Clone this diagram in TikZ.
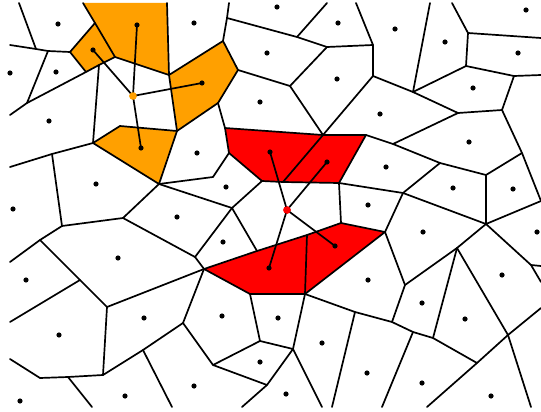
\documentclass[tikz,border=0pt]{standalone}
\definecolor{vorange}{RGB}{255,160,0}
\definecolor{vred}{RGB}{255,0,0}
\begin{document}
\begin{tikzpicture}[x=1pt,y=-1pt,
  edge/.style={line width=1.7pt, line join=round, line cap=round},
  site/.style={circle, fill=black, inner sep=0pt, minimum size=5.2pt},
  qorange/.style={circle, fill=vorange, inner sep=0pt, minimum size=7.5pt},
  qred/.style={circle, fill=vred, inner sep=0pt, minimum size=7.5pt},
  conn/.style={line width=1.7pt}]
\useasboundingbox (0,0) rectangle (541,412);
\fill[white] (0,0) rectangle (541,412);
% boundary points
\coordinate (b1) at (19,3);  \coordinate (b2) at (83,3);  \coordinate (b3) at (167,3);
\coordinate (b4) at (229,3); \coordinate (b5) at (327,3); \coordinate (b6) at (356,3);
\coordinate (b7) at (430,3); \coordinate (b8) at (452,3);
\coordinate (l1) at (10,45);  \coordinate (l2) at (10,115); \coordinate (l3) at (10,167);
\coordinate (l4) at (10,262); \coordinate (l5) at (10,322); \coordinate (l6) at (10,359);
\coordinate (r1) at (541,38);  \coordinate (r2) at (541,75);  \coordinate (r3) at (541,201);
\coordinate (r4) at (541,266); \coordinate (r5) at (541,282); \coordinate (r6) at (541,308);
\coordinate (d1) at (92,407);  \coordinate (d2) at (172,407); \coordinate (d3) at (242,407);
\coordinate (d4) at (322,407); \coordinate (d5) at (332,407); \coordinate (d6) at (382,407);
\coordinate (d7) at (427,407); \coordinate (d8) at (531,407);
% interior vertices
\coordinate (A) at (36,49);   \coordinate (B) at (48,51);   \coordinate (C) at (70,52);
\coordinate (D) at (95,23);   \coordinate (E) at (115,57);  \coordinate (F) at (99,65);
\coordinate (G) at (86,72);   \coordinate (H) at (27,103);  \coordinate (I) at (93,143);
\coordinate (J) at (52,154);  \coordinate (K) at (120,126); \coordinate (L) at (177,131);
\coordinate (M) at (169,75);  \coordinate (N) at (159,184); \coordinate (O) at (223,41);
\coordinate (P) at (238,70);  \coordinate (Q) at (218,103); \coordinate (R) at (227,18);
\coordinate (S) at (297,37);  \coordinate (T) at (327,47);  \coordinate (U) at (290,86);
\coordinate (V) at (373,45);  \coordinate (W) at (373,76);  \coordinate (X) at (323,135);
\coordinate (Y) at (225,128); \coordinate (Z) at (229,153); \coordinate (va) at (213,177);
\coordinate (vc) at (262,181); \coordinate (vd) at (283,182); \coordinate (ve) at (339,183);
\coordinate (vf) at (366,135); \coordinate (vg) at (232,208); \coordinate (vk) at (123,218);
\coordinate (vn) at (62,226);  \coordinate (vo) at (40,240);  \coordinate (vp) at (80,280);
\coordinate (vq) at (107,307); \coordinate (vs) at (103,375); \coordinate (vt) at (40,378);
\coordinate (vu) at (68,377);  \coordinate (vw) at (143,350); \coordinate (vx) at (183,323);
\coordinate (vy) at (195,257); \coordinate (vz) at (204,269);
\coordinate (A2) at (257,251); \coordinate (B2) at (307,235); \coordinate (C2) at (341,223);
\coordinate (D2) at (385,232); \coordinate (E2) at (305,294); \coordinate (F2) at (250,294);
\coordinate (G2) at (260,341); \coordinate (H2) at (213,365); \coordinate (I2) at (267,385);
\coordinate (J2) at (293,349); \coordinate (K2) at (355,312); \coordinate (L2) at (392,322);
\coordinate (M2) at (413,332); \coordinate (N2) at (433,338); \coordinate (O2) at (477,363);
\coordinate (P2) at (508,335); \coordinate (Q2) at (457,248); \coordinate (R2) at (405,285);
\coordinate (S2) at (486,224); \coordinate (T2) at (403,193); \coordinate (U2) at (440,163);
\coordinate (V2) at (486,175); \coordinate (W2) at (522,153); \coordinate (X2) at (502,110);
\coordinate (Y2) at (458,113); \coordinate (Z2) at (393,144); \coordinate (a3) at (413,92);
\coordinate (b3v) at (466,66); \coordinate (c3) at (514,76);  \coordinate (d3v) at (468,33);
\coordinate (e3) at (531,265);
% coloured cells
\fill[vorange] (C) -- (D) -- (E) -- (F) -- (G) -- cycle;
\fill[vorange] (b2) -- (b3) -- (M) -- (E) -- (D) -- cycle;
\fill[vorange] (M) -- (O) -- (P) -- (Q) -- (L) -- cycle;
\fill[vorange] (I) -- (K) -- (L) -- (N) -- cycle;
\fill[vred] (Y) -- (X) -- (vf) -- (ve) -- (vd) -- (vc) -- (Z) -- cycle;
\fill[vred] (vz) -- (A2) -- (B2) -- (C2) -- (D2) -- (E2) -- (F2) -- cycle;
% edges
\draw[edge] (b1) -- (A);
\draw[edge] (l1) -- (A) -- (B) -- (C);
\draw[edge] (B) -- (H);
\draw[edge] (l2) -- (H) -- (G);
\draw[edge] (C) -- (D) -- (E) -- (F) -- (G) -- cycle;
\draw[edge] (b2) -- (D);
\draw[edge] (b3) -- (M) -- (E);
\draw[edge] (F) -- (I);
\draw[edge] (l3) -- (J) -- (I);
\draw[edge] (J) -- (vn);
\draw[edge] (I) -- (K) -- (L) -- (N) -- cycle;
\draw[edge] (L) -- (M);
\draw[edge] (M) -- (O) -- (P) -- (Q) -- (L);
\draw[edge] (b4) -- (R) -- (O);
\draw[edge] (R) -- (S) -- (T) -- (V);
\draw[edge] (S) -- (b5);
\draw[edge] (b6) -- (V) -- (W);
\draw[edge] (T) -- (U) -- (P);
\draw[edge] (U) -- (X);
\draw[edge] (Q) -- (Y);
\draw[edge] (X) -- (W);
\draw[edge] (Y) -- (X) -- (vf);
\draw[edge] (Y) -- (Z) -- (vc) -- (vd) -- (ve) -- (vf);
\draw[edge] (vd) -- (X);
\draw[edge] (Z) -- (va) -- (N);
\draw[edge] (N) -- (vg);
\draw[edge] (vc) -- (vg);
\draw[edge] (N) -- (vk);
\draw[edge] (vg) -- (vy);
\draw[edge] (vg) -- (A2);
\draw[edge] (vy) -- (vk);
\draw[edge] (vy) -- (vz);
\draw[edge] (vn) -- (vk);
\draw[edge] (vn) -- (vo) -- (l4);
\draw[edge] (vo) -- (vp) -- (l5);
\draw[edge] (vp) -- (vq) -- (vz);
\draw[edge] (vq) -- (vs);
\draw[edge] (vs) -- (vw) -- (vx) -- (vz);
\draw[edge] (vw) -- (d2);
\draw[edge] (l6) -- (vt) -- (vu) -- (vs);
\draw[edge] (vu) -- (d1);
\draw[edge] (vx) -- (H2) -- (G2) -- (F2);
\draw[edge] (H2) -- (I2) -- (J2) -- (G2);
\draw[edge] (I2) -- (d3);
\draw[edge] (J2) -- (E2);
\draw[edge] (J2) -- (d4);
\draw[edge] (E2) -- (K2) -- (d5);
\draw[edge] (K2) -- (L2) -- (R2) -- (D2);
\draw[edge] (L2) -- (M2) -- (N2) -- (O2) -- (d7);
\draw[edge] (M2) -- (d6);
\draw[edge] (N2) -- (Q2);
\draw[edge] (O2) -- (P2) -- (Q2);
\draw[edge] (P2) -- (r6);
\draw[edge] (P2) -- (d8);
\draw[edge] (Q2) -- (R2);
\draw[edge] (Q2) -- (S2);
\draw[edge] (D2) -- (T2);
\draw[edge] (T2) -- (ve);
\draw[edge] (T2) -- (S2);
\draw[edge] (T2) -- (U2);
\draw[edge] (U2) -- (Z2) -- (vf);
\draw[edge] (U2) -- (V2) -- (S2);
\draw[edge] (V2) -- (W2) -- (X2);
\draw[edge] (W2) -- (r3);
\draw[edge] (S2) -- (r3);
\draw[edge] (S2) -- (e3) -- (r4);
\draw[edge] (e3) -- (r5);
\draw[edge] (X2) -- (Y2) -- (Z2);
\draw[edge] (Y2) -- (a3) -- (W);
\draw[edge] (X2) -- (c3) -- (b3v) -- (a3);
\draw[edge] (c3) -- (r2);
\draw[edge] (b3v) -- (d3v) -- (b8);
\draw[edge] (d3v) -- (r1);
\draw[edge] (a3) -- (b7);
\draw[edge] (ve) -- (C2);
\draw[edge] (vz) -- (A2) -- (B2) -- (C2) -- (D2) -- (E2) -- (F2) -- cycle;
\draw[edge] (B2) -- (E2);
% sites
\foreach \i/\p in {s1/{(58,24)}, s2/{(10,73)}, s3/{(56,72)}, s4/{(49,121)}, s5/{(96,184)},
  s6/{(13,209)}, s7/{(26,280)}, s8/{(118,258)}, s9/{(59,335)}, s10/{(20,401)},
  s11/{(125,396)}, s12/{(144,318)}, s13/{(177,217)}, s14/{(194,386)}, s15/{(222,316)},
  s16/{(223,242)}, s17/{(226,187)}, s18/{(197,153)}, s19/{(260,102)}, s20/{(267,53)},
  s21/{(194,23)}, s22/{(277,7)}, s23/{(338,23)}, s24/{(337,79)}, s25/{(395,29)},
  s26/{(445,42)}, s27/{(526,10)}, s28/{(518,53)}, s29/{(473,88)}, s30/{(380,114)},
  s31/{(469,142)}, s32/{(386,167)}, s33/{(368,205)}, s34/{(453,188)}, s35/{(513,189)},
  s36/{(537,232)}, s37/{(423,232)}, s38/{(502,275)}, s39/{(368,280)}, s40/{(422,303)},
  s41/{(465,319)}, s42/{(278,318)}, s43/{(260,362)}, s44/{(286,394)}, s45/{(322,343)},
  s46/{(367,373)}, s47/{(422,383)}, s48/{(491,396)}}
  \node[site] (\i) at \p {};
\node[site] (so1) at (93,50) {};
\node[site] (so2) at (137,25) {};
\node[site] (so3) at (202,83) {};
\node[site] (so4) at (141,148) {};
\node[site] (sr1) at (270,152) {};
\node[site] (sr2) at (327,162) {};
\node[site] (sr3) at (269,268) {};
\node[site] (sr4) at (335,246) {};
\node[qorange] (qo) at (133,96) {};
\node[qred] (qr) at (287,210) {};
\foreach \t in {so1,so2,so3,so4} \draw[conn] (qo.center) -- (\t.center);
\foreach \t in {sr1,sr2,sr3,sr4} \draw[conn] (qr.center) -- (\t.center);
\node[qorange] at (qo) {};
\node[qred] at (qr) {};
\end{tikzpicture}
\end{document}
